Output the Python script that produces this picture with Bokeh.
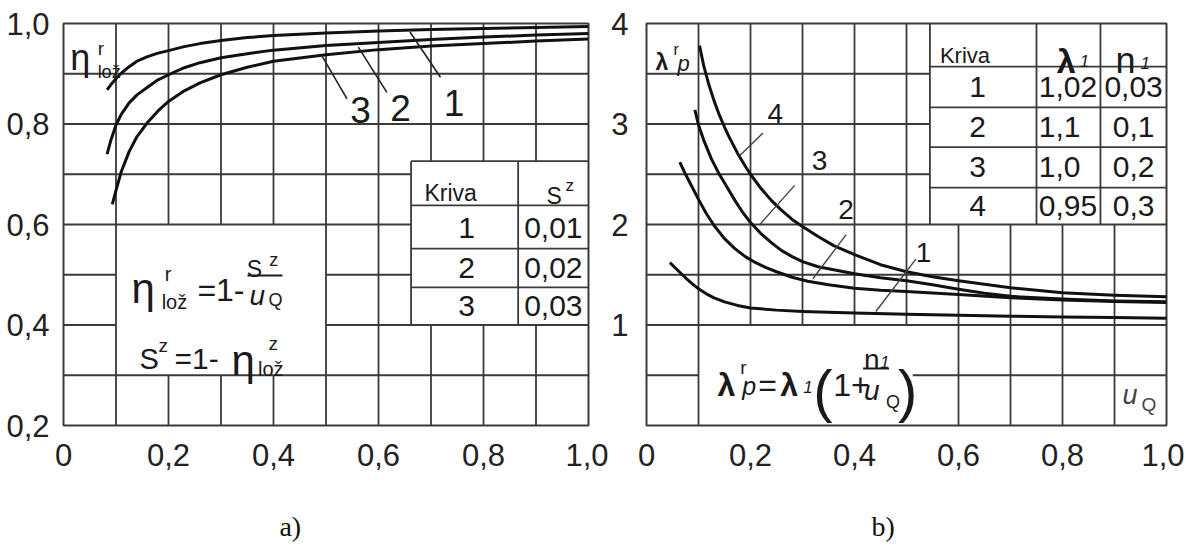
from bokeh.plotting import figure
from bokeh.layouts import row
from bokeh.models import Range1d, FixedTicker, CustomJSTickFormatter, LinearAxis
from bokeh.core.properties import value
from bokeh.embed import file_html
from bokeh.resources import INLINE

# ---------------- panel a) data ----------------
x_ticks = [0, 0.2, 0.4, 0.6, 0.8, 1.0]
eta_ticks = [0.2, 0.4, 0.6, 0.8, 1.0]
captions = ["a)", "b)"]

eta1_x = [0.083, 0.09, 0.1, 0.11, 0.125, 0.14, 0.16, 0.18, 0.2, 0.23, 0.26, 0.3, 0.35, 0.4,
          0.5, 0.6, 0.7, 0.8, 0.9, 1.0]
eta1_y = [0.868, 0.878, 0.890, 0.901, 0.914, 0.925, 0.934, 0.941, 0.946, 0.954, 0.960, 0.966,
          0.972, 0.976, 0.981, 0.985, 0.988, 0.990, 0.992, 0.994]
eta2_x = [0.083, 0.09, 0.1, 0.11, 0.125, 0.14, 0.16, 0.18, 0.2, 0.23, 0.26, 0.3, 0.35, 0.4,
          0.5, 0.6, 0.7, 0.8, 0.9, 1.0]
eta2_y = [0.740, 0.767, 0.798, 0.819, 0.842, 0.858, 0.873, 0.888, 0.898, 0.912, 0.922, 0.932,
          0.940, 0.947, 0.956, 0.962, 0.968, 0.973, 0.977, 0.980]
eta3_x = [0.093, 0.1, 0.11, 0.125, 0.14, 0.16, 0.18, 0.2, 0.23, 0.26, 0.3, 0.35, 0.4,
          0.5, 0.6, 0.7, 0.8, 0.9, 1.0]
eta3_y = [0.640, 0.668, 0.705, 0.745, 0.775, 0.803, 0.826, 0.845, 0.866, 0.882, 0.898, 0.913,
          0.925, 0.938, 0.948, 0.955, 0.960, 0.965, 0.969]

kriva_a = ["1", "2", "3"]
sz_a = ["0,01", "0,02", "0,03"]

# ---------------- panel b) data ----------------
lam_ticks = [1, 2, 3, 4]

lam1_x = [0.045, 0.055, 0.065, 0.075, 0.087, 0.1, 0.115, 0.13, 0.15, 0.175, 0.2, 0.25, 0.3,
          0.4, 0.5, 0.6, 0.7, 0.8, 0.9, 1.0]
lam1_y = [1.62, 1.57, 1.52, 1.47, 1.415, 1.36, 1.31, 1.27, 1.23, 1.195, 1.17, 1.148, 1.135,
          1.12, 1.108, 1.097, 1.088, 1.08, 1.074, 1.068]
lam2_x = [0.064, 0.075, 0.087, 0.1, 0.115, 0.13, 0.15, 0.17, 0.19, 0.21, 0.23, 0.25, 0.28,
          0.31, 0.35, 0.4, 0.45, 0.5, 0.6, 0.7, 0.8, 0.9, 1.0]
lam2_y = [2.62, 2.50, 2.38, 2.25, 2.11, 1.99, 1.86, 1.76, 1.68, 1.62, 1.57, 1.53, 1.475,
          1.435, 1.40, 1.365, 1.345, 1.333, 1.304, 1.272, 1.248, 1.235, 1.225]
lam3_x = [0.093, 0.1, 0.11, 0.125, 0.14, 0.155, 0.17, 0.185, 0.2, 0.22, 0.24, 0.26, 0.28, 0.3,
          0.33, 0.36, 0.4, 0.45, 0.5, 0.55, 0.6, 0.65, 0.7, 0.8, 0.9, 1.0]
lam3_y = [3.14, 2.99, 2.84, 2.65, 2.50, 2.37, 2.24, 2.12, 2.02, 1.91, 1.82, 1.74, 1.68, 1.63,
          1.58, 1.55, 1.51, 1.47, 1.44, 1.40, 1.355, 1.315, 1.285, 1.258, 1.24, 1.232]
lam4_x = [0.102, 0.11, 0.12, 0.13, 0.14, 0.15, 0.16, 0.175, 0.19, 0.2, 0.22, 0.24, 0.26, 0.28,
          0.3, 0.33, 0.36, 0.4, 0.45, 0.5, 0.55, 0.6, 0.7, 0.8, 0.9, 1.0]
lam4_y = [3.78, 3.58, 3.39, 3.23, 3.09, 2.97, 2.86, 2.71, 2.58, 2.50, 2.36, 2.24, 2.14, 2.05,
          1.98, 1.88, 1.79, 1.70, 1.60, 1.53, 1.48, 1.44, 1.37, 1.32, 1.295, 1.28]

kriva_b = ["1", "2", "3", "4"]
lam1_b = ["1,02", "1,1", "1,0", "0,95"]
n1_b = ["0,03", "0,1", "0,2", "0,3"]

FONT = "Liberation Sans"
GRID = "#3a3a3a"
INK = "#1a1a1a"


def txt(p, x, y, s, size, align="left", baseline="alphabetic", style="normal",
        color=INK, font=FONT):
    p.text(x=[x], y=[y], text=[s], text_font=value(font), text_font_size=f"{size}px",
           text_align=align, text_baseline=baseline, text_font_style=style,
           text_color=color)


def segs(p, s, color=GRID, width=1.8):
    p.segment(x0=[a[0] for a in s], y0=[a[1] for a in s], x1=[a[2] for a in s],
              y1=[a[3] for a in s], line_color=color, line_width=width)


def style_fig(p, yticks, xfmt, yfmt):
    p.grid.visible = False
    p.outline_line_color = GRID
    p.outline_line_width = 2
    for ax in (p.xaxis[0], p.yaxis[0]):
        ax.axis_line_color = None
        ax.major_tick_line_color = None
        ax.minor_tick_line_color = None
        ax.major_label_text_font = FONT
        ax.major_label_text_font_size = "31px"
        ax.major_label_text_color = "#222222"
    p.xaxis.ticker = FixedTicker(ticks=x_ticks)
    p.yaxis.ticker = FixedTicker(ticks=yticks)
    p.xaxis.formatter = CustomJSTickFormatter(code=xfmt)
    if yfmt:
        p.yaxis.formatter = CustomJSTickFormatter(code=yfmt)
    p.xaxis.major_label_standoff = 12
    p.background_fill_color = "white"
    p.border_fill_color = "white"


def caption(p, xpos, label, standoff):
    cap = LinearAxis(ticker=FixedTicker(ticks=[xpos]),
                     formatter=CustomJSTickFormatter(code=f"return '{label}';"),
                     axis_line_color=None, major_tick_line_color=None,
                     minor_tick_line_color=None,
                     major_label_text_font="Liberation Serif",
                     major_label_text_font_size="28px",
                     major_label_text_color="#111111",
                     major_label_standoff=standoff)
    p.add_layout(cap, "below")


comma = "return tick == 0 ? '0' : tick.toFixed(1).replace('.', ',');"

# ================= panel a =================
pa = figure(width=608, height=547, x_range=Range1d(0, 1), y_range=Range1d(0.2, 1.0),
            output_backend="svg", toolbar_location=None,
            min_border_left=63, min_border_right=20, min_border_top=23, min_border_bottom=122)
style_fig(pa, eta_ticks, comma, comma)
pa.yaxis.major_label_standoff = 8

grid_a = [
    (0, 0.9, 1, 0.9), (0, 0.8, 1, 0.8), (0, 0.7, 0.662, 0.7), (0, 0.6, 0.662, 0.6),
    (0, 0.5, 0.1, 0.5), (0.5, 0.5, 0.662, 0.5), (0, 0.4, 0.1, 0.4), (0.5, 0.4, 1, 0.4),
    (0, 0.3, 1, 0.3),
    (0.1, 0.2, 0.1, 1), (0.5, 0.2, 0.5, 1), (0.6, 0.2, 0.6, 1),
    (0.2, 0.2, 0.2, 0.3), (0.2, 0.6, 0.2, 1), (0.3, 0.2, 0.3, 0.3), (0.3, 0.6, 0.3, 1),
    (0.4, 0.2, 0.4, 0.3), (0.4, 0.6, 0.4, 1),
    (0.7, 0.2, 0.7, 0.4), (0.7, 0.726, 0.7, 1), (0.8, 0.2, 0.8, 0.4), (0.8, 0.726, 0.8, 1),
    (0.9, 0.2, 0.9, 0.4), (0.9, 0.726, 0.9, 1),
    # table
    (0.662, 0.4, 0.662, 0.726), (0.662, 0.726, 1, 0.726), (0.866, 0.4, 0.866, 0.726),
    (0.662, 0.638, 1, 0.638), (0.662, 0.552, 1, 0.552), (0.662, 0.475, 1, 0.475),
]
segs(pa, grid_a)

for xs, ys in ((eta1_x, eta1_y), (eta2_x, eta2_y), (eta3_x, eta3_y)):
    pa.line(xs, ys, line_color="#111111", line_width=3, line_join="round")

# leaders & curve labels
segs(pa, [(0.66, 0.983, 0.718, 0.893), (0.5615, 0.953, 0.616, 0.863),
          (0.492, 0.936, 0.54, 0.850)], color="#222222", width=1.6)
pa.text(x=[0.744, 0.6419, 0.5657], y=[0.8408, 0.8318, 0.8269], text=kriva_a,
        text_font=value(FONT), text_font_size="37px", text_align="center",
        text_baseline="middle", text_color=INK)

# corner label
txt(pa, 0.013, 0.932, "η", 36)
txt(pa, 0.065, 0.950, "r", 19)
txt(pa, 0.065, 0.9025, "lož", 18)

# formula 1
txt(pa, 0.1295, 0.472, "η", 42)
txt(pa, 0.193, 0.502, "r", 20)
txt(pa, 0.187, 0.445, "lož", 20)
txt(pa, 0.255, 0.4687, "=1-", 32)
txt(pa, 0.3638, 0.5124, "S", 23, align="center")
txt(pa, 0.392, 0.5284, "z", 18)
segs(pa, [(0.3505, 0.4985, 0.417, 0.4985)], color=INK, width=2)
txt(pa, 0.369, 0.4587, "u", 28, align="center", style="italic")
txt(pa, 0.3905, 0.4488, "Q", 18)
# formula 2
txt(pa, 0.1448, 0.3333, "S", 29)
txt(pa, 0.181, 0.359, "z", 19)
txt(pa, 0.2114, 0.3333, "=1-", 30)
txt(pa, 0.32, 0.3294, "η", 42)
txt(pa, 0.3905, 0.3632, "z", 19)
txt(pa, 0.3705, 0.3134, "lož", 20)

# table a
txt(pa, 0.6876, 0.6617, "Kriva", 23)
txt(pa, 0.92, 0.6577, "S", 23)
txt(pa, 0.956, 0.6776, "z", 17)
rows_a = [0.594, 0.5144, 0.4388]
pa.text(x=[0.7676] * 3, y=rows_a, text=kriva_a, text_font=value(FONT), text_font_size="30px",
        text_align="center", text_baseline="middle", text_color=INK)
pa.text(x=[0.9886] * 3, y=rows_a, text=sz_a, text_font=value(FONT), text_font_size="30px",
        text_align="right", text_baseline="middle", text_color=INK)

caption(pa, 0.432, captions[0], 36)

# ================= panel b =================
pb = figure(width=576, height=547, x_range=Range1d(0, 1), y_range=Range1d(0, 4),
            output_backend="svg", toolbar_location=None,
            min_border_left=37, min_border_right=18, min_border_top=22, min_border_bottom=116)
style_fig(pb, lam_ticks, comma, None)
pb.yaxis.major_label_standoff = 12

grid_b = [
    (0, 3.5, 0.545, 3.5), (0, 3.0, 0.545, 3.0), (0, 2.5, 0.545, 2.5),
    (0, 2.0, 1, 2.0), (0, 1.5, 1, 1.5), (0, 1.0, 1, 1.0),
    (0, 0.5, 0.1, 0.5), (0.512, 0.5, 1, 0.5),
    (0.1, 0, 0.1, 4), (0.2, 1, 0.2, 4), (0.3, 1, 0.3, 4), (0.4, 1, 0.4, 4), (0.5, 1, 0.5, 4),
    (0.6, 0, 0.6, 2), (0.7, 0, 0.7, 2), (0.8, 0, 0.8, 2), (0.9, 0, 0.9, 2),
    # table
    (0.545, 2, 0.545, 4), (0.75, 2, 0.75, 4), (0.873, 2, 0.873, 4),
    (0.545, 3.57, 1, 3.57), (0.545, 3.166, 1, 3.166), (0.545, 2.77, 1, 2.77),
    (0.545, 2.367, 1, 2.367),
]
segs(pb, grid_b)

for xs, ys in ((lam1_x, lam1_y), (lam2_x, lam2_y), (lam3_x, lam3_y), (lam4_x, lam4_y)):
    pb.line(xs, ys, line_color="#111111", line_width=3, line_join="round")

segs(pb, [(0.179, 2.683, 0.224, 2.911), (0.2175, 1.998, 0.285, 2.389),
          (0.32, 1.46, 0.384, 1.90), (0.441, 1.134, 0.518, 1.656)], color="#444444", width=1.4)
pb.text(x=[0.5326, 0.3839, 0.3327, 0.2476], y=[1.721, 2.145, 2.634, 3.10], text=kriva_b,
        text_font=value(FONT), text_font_size="28px", text_align="center",
        text_baseline="middle", text_color=INK)

# corner label
txt(pb, 0.0173, 3.612, "λ", 23, style="bold")
txt(pb, 0.0518, 3.746, "r", 16)
txt(pb, 0.0595, 3.599, "p", 22, style="italic")

# formula
txt(pb, 0.1363, 0.401, "λ", 32, style="bold")
txt(pb, 0.1804, 0.577, "r", 19)
txt(pb, 0.1843, 0.391, "p", 25, style="italic")
txt(pb, 0.215, 0.401, "=", 32)
txt(pb, 0.257, 0.401, "λ", 32, style="bold")
txt(pb, 0.3013, 0.381, "1", 17, style="italic")
txt(pb, 0.3205, 0.352, "(", 58)
txt(pb, 0.359, 0.401, "1+", 32)
txt(pb, 0.4184, 0.655, "n", 28)
txt(pb, 0.449, 0.636, "1", 17, style="italic")
segs(pb, [(0.4165, 0.567, 0.4664, 0.567)], color=INK, width=2)
txt(pb, 0.4184, 0.352, "u", 28, style="italic")
txt(pb, 0.4607, 0.2347, "Q", 18)
txt(pb, 0.4837, 0.352, ")", 58)

# axis name inside
txt(pb, 0.9155, 0.303, "u", 27, style="italic", color="#444444")
txt(pb, 0.952, 0.205, "Q", 19, color="#444444")

# table b
txt(pb, 0.5643, 3.677, "Kriva", 22)
txt(pb, 0.7889, 3.628, "λ", 34, style="bold")
txt(pb, 0.833, 3.628, "1", 17, style="italic")
txt(pb, 0.902, 3.628, "n", 36)
txt(pb, 0.950, 3.609, "1", 17, style="italic")
rows_b = [3.367, 2.968, 2.569, 2.186]
pb.text(x=[0.6366] * 4, y=rows_b, text=kriva_b, text_font=value(FONT), text_font_size="30px",
        text_align="center", text_baseline="middle", text_color=INK)
pb.text(x=[0.7543] * 4, y=rows_b, text=lam1_b, text_font=value(FONT), text_font_size="30px",
        text_align="left", text_baseline="middle", text_color=INK)
pb.text(x=[0.9367] * 4, y=rows_b, text=n1_b, text_font=value(FONT), text_font_size="30px",
        text_align="center", text_baseline="middle", text_color=INK)

caption(pb, 0.455, captions[1], 36)

layout = row(pa, pb)
open("out.html", "w").write(file_html(layout, INLINE))
